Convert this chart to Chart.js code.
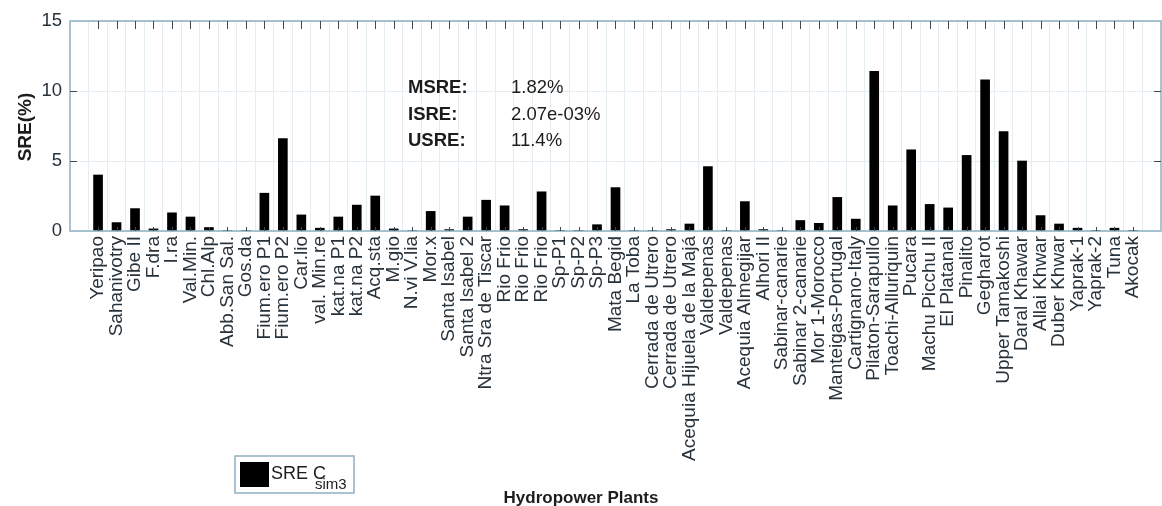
<!DOCTYPE html>
<html>
<head>
<meta charset="utf-8">
<script src="https://cdn.jsdelivr.net/npm/chart.js@4"></script>
<style>
body{margin:0;background:#fff}
</style>
</head>
<body>
<canvas id="sreChart" width="1162" height="506"></canvas>
<script>
const plants=["Yeripao","Sahanivotry","Gibe II","F.dra","I.ra","Val.Min.","Chl.Alp","Abb.San Sal.","Gos.da","Fium.ero P1","Fium.ero P2","Car.lio","val. Min.re","kat.na P1","kat.na P2","Acq.sta","M.gio","N.vi V.lia","Mor.x","Santa Isabel","Santa Isabel 2","Ntra Sra de Tiscar","Rio Frio","Rio Frio","Rio Frio","Sp-P1","Sp-P2","Sp-P3","Mata Begid","La Toba","Cerrada de Utrero","Cerrada de Utrero","Acequia Hijuela de la Majá","Valdepenas","Valdepenas","Acequia Almegijar","Alhori II","Sabinar-canarie","Sabinar 2-canarie","Mor 1-Morocco","Manteigas-Portugal","Cartignano-Italy","Pilaton-Sarapullo","Toachi-Alluriquin","Pucara","Machu Picchu II","El Platanal","Pinalito","Gegharot","Upper Tamakoshi","Daral Khawar","Allai Khwar","Duber Khwar","Yaprak-1","Yaprak-2","Tuna","Akocak"]
const sre=[4.0,0.6,1.6,0.15,1.3,1.0,0.25,0.04,0.04,2.7,6.6,1.15,0.2,1.0,1.85,2.5,0.15,0.04,1.4,0.1,1.0,2.2,1.8,0.1,2.8,0.05,0.05,0.45,3.1,0.02,0.02,0.1,0.5,4.6,0.02,2.1,0.1,0.02,0.75,0.55,2.4,0.85,11.4,1.8,5.8,1.9,1.65,5.4,10.8,7.1,5.0,1.1,0.5,0.2,0.02,0.2,0.02]
const yTicks=[0,5,10,15]
const statNames=["MSRE:","ISRE:","USRE:"]
const statValues=["1.82%","2.07e-03%","11.4%"]

const FONT="'Liberation Sans', Arial, sans-serif"

function line(ctx,x1,y1,x2,y2){
ctx.beginPath()
ctx.moveTo(x1,y1)
ctx.lineTo(x2,y2)
ctx.stroke()
}

// box, inward ticks, stats text, legend and axis titles
const decor={
id:"decor",
afterDraw(chart){
const ctx=chart.ctx
const a=chart.chartArea
const xs=chart.scales.x
const ys=chart.scales.y
ctx.save()
ctx.strokeStyle="#8fb0c4"
ctx.lineWidth=1.5
ctx.strokeRect(a.left,a.top,a.right-a.left,a.bottom-a.top)

ctx.strokeStyle="#3c4852"
ctx.lineWidth=1
plants.forEach((p,i)=>{
let px=Math.round(xs.getPixelForValue(i+1))+0.5
line(ctx,px,a.top,px,a.top+8)
line(ctx,px,a.bottom,px,a.bottom-4)
})
yTicks.slice(1,-1).forEach(v=>{
let py=Math.round(ys.getPixelForValue(v))+0.5
line(ctx,a.left,py,a.left+7,py)
line(ctx,a.right,py,a.right-7,py)
})

ctx.fillStyle="#1c1c1c"
ctx.textBaseline="alphabetic"
ctx.textAlign="left"
statNames.forEach((s,i)=>{
let by=93+i*26.5
ctx.font="bold 18.5px "+FONT
ctx.fillText(s,408,by)
ctx.font="18.5px "+FONT
ctx.fillText(statValues[i],511,by)
})

// y title
ctx.save()
ctx.translate(31,127)
ctx.rotate(-Math.PI/2)
ctx.textAlign="center"
ctx.font="bold 19px "+FONT
ctx.fillText("SRE(%)",0,0)
ctx.restore()

// x title
ctx.textAlign="center"
ctx.font="bold 17px "+FONT
ctx.fillText("Hydropower Plants",581,503)

// legend
ctx.fillStyle="#fff"
ctx.fillRect(235,456,119,37)
ctx.strokeStyle="#8fb0c4"
ctx.lineWidth=1.5
ctx.strokeRect(235,456,119,37)
ctx.fillStyle="#000"
ctx.fillRect(240,462,29,25)
ctx.fillStyle="#1c1c1c"
ctx.textAlign="left"
ctx.font="18px "+FONT
ctx.fillText("SRE C",271,479)
ctx.font="15px "+FONT
ctx.fillText("sim3",315,489)
ctx.restore()
}
}

new Chart(document.getElementById("sreChart"),{
type:"bar",
data:{
datasets:[{
label:"SRE Csim3",
data:sre.map((v,i)=>({x:i+1,y:v})),
backgroundColor:"#000",
barThickness:9
}]
},
options:{
responsive:false,
animation:false,
layout:{padding:{top:21,right:1,left:0,bottom:0}},
plugins:{legend:{display:false},tooltip:{enabled:false}},
scales:{
x:{
type:"linear",
min:0,
max:58,
afterBuildTicks(scale){
scale.ticks=plants.map((p,i)=>({value:i+1}))
},
afterFit(scale){scale.height=275},
grid:{color:"#e4edf2",drawTicks:false},
border:{display:false},
ticks:{
autoSkip:false,
minRotation:90,
maxRotation:90,
padding:5,
color:"#27323b",
font:{family:FONT,size:19},
callback:v=>plants[v-1]
}
},
y:{
min:0,
max:15,
afterBuildTicks(scale){
scale.ticks=yTicks.map(v=>({value:v}))
},
afterFit(scale){scale.width=70},
grid:{color:"#e4edf2",drawTicks:false},
border:{display:false},
ticks:{
padding:8,
color:"#27323b",
font:{family:FONT,size:18.5}
}
}
}
},
plugins:[decor]
})
</script>
</body>
</html>
